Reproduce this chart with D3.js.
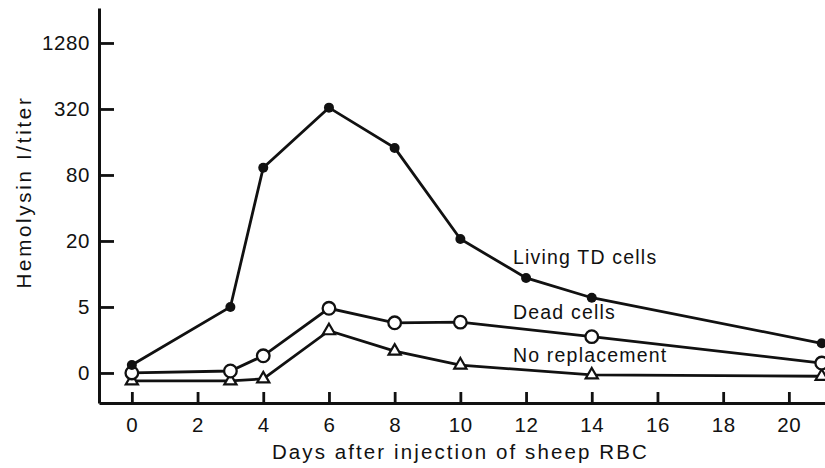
<!DOCTYPE html>
<html>
<head>
<meta charset="utf-8">
<script src="https://cdn.jsdelivr.net/npm/d3@7"></script>
<style>
  body { margin: 0; background: #fff; }
  text { font-family: "Liberation Sans", Arial, sans-serif; fill: #111; }
  .tickText { font-size: 20.5px; letter-spacing: 0.6px; }
  .aText { font-size: 20.5px; letter-spacing: 2.1px; }
  .yText { font-size: 20.5px; letter-spacing: 2.7px; }
  .sText { font-size: 19.5px; letter-spacing: 1.2px; }
</style>
</head>
<body>
<div id="chart"></div>
<script>
// Chart data (y in log4 steps: 0 -> "0", 1 -> "5", 2 -> "20", ...)
// ==============================
var days = [0, 3, 4, 6, 8, 10, 12, 14, 21];
var livingTD = [0.12, 1.0, 3.11, 4.02, 3.41, 2.03, 1.44, 1.14, 0.45];

var deadDays = [0, 3, 4, 6, 8, 10, 14, 21];
var deadCells = [0.0, 0.03, 0.26, 0.98, 0.76, 0.77, 0.55, 0.15];

var noRepDays = [0, 3, 4, 6, 8, 10, 14, 21];
var noReplacement = [-0.12, -0.12, -0.09, 0.64, 0.33, 0.12, -0.03, -0.05];

var yTickLabels = ["0", "5", "20", "80", "320", "1280"];
var xTicks = [0, 2, 4, 6, 8, 10, 12, 14, 16, 18, 20];

// Define SVG area
// ==============================
var svgWidth = 825;
var svgHeight = 468;

var margin = { top: 8, right: 0, bottom: 65, left: 99 };
var width = svgWidth - margin.left - margin.right;
var height = svgHeight - margin.top - margin.bottom;

var svg = d3.select("#chart")
  .append("svg")
  .attr("width", svgWidth)
  .attr("height", svgHeight);

var chartGroup = svg.append("g")
  .attr("transform", `translate(${margin.left}, ${margin.top})`);

// Scales
// ==============================
var xScale = d3.scaleLinear()
  .domain([-1.0, 21.1])
  .range([0, width]);

var yScale = d3.scaleLinear()
  .domain([-0.455, 5.53])
  .range([height, 0]);

// Axes (ticks point inward)
// ==============================
var xAxis = d3.axisBottom(xScale)
  .tickValues(xTicks)
  .tickSizeInner(-11)
  .tickSizeOuter(0)
  .tickPadding(14);

var yAxis = d3.axisLeft(yScale)
  .tickValues(d3.range(yTickLabels.length))
  .tickFormat(i => yTickLabels[i])
  .tickSizeInner(-15)
  .tickSizeOuter(0)
  .tickPadding(9);

var xAxisGroup = chartGroup.append("g")
  .attr("transform", `translate(0, ${height})`)
  .call(xAxis);

var yAxisGroup = chartGroup.append("g")
  .call(yAxis);

[xAxisGroup, yAxisGroup].forEach(function(g) {
  g.attr("font-family", null).attr("font-size", null);
  g.select(".domain").attr("stroke", "#111").attr("stroke-width", 3);
  g.selectAll(".tick line").attr("stroke", "#111").attr("stroke-width", 2.8);
  g.selectAll(".tick text")
    .attr("class", "tickText")
    .attr("fill", "#111");
});

// Lines and markers
// ==============================
var line = d3.line()
  .x(d => xScale(d[0]))
  .y(d => yScale(d[1]));

var series = [
  { name: "living", pts: d3.zip(days, livingTD) },
  { name: "dead", pts: d3.zip(deadDays, deadCells) },
  { name: "none", pts: d3.zip(noRepDays, noReplacement) }
];

chartGroup.selectAll(".seriesLine")
  .data(series)
  .join("path")
  .attr("class", "seriesLine")
  .attr("d", d => line(d.pts))
  .attr("fill", "none")
  .attr("stroke", "#111")
  .attr("stroke-width", 2.8);

// Triangles (no replacement)
chartGroup.selectAll(".triMark")
  .data(series[2].pts)
  .join("path")
  .attr("class", "triMark")
  .attr("transform", d => `translate(${xScale(d[0])}, ${yScale(d[1])})`)
  .attr("d", d3.symbol(d3.symbolTriangle, 64))
  .attr("fill", "#fff")
  .attr("stroke", "#111")
  .attr("stroke-width", 2.2);

// Open circles (dead cells)
chartGroup.selectAll(".openMark")
  .data(series[1].pts)
  .join("circle")
  .attr("class", "openMark")
  .attr("cx", d => xScale(d[0]))
  .attr("cy", d => yScale(d[1]))
  .attr("r", 6.3)
  .attr("fill", "#fff")
  .attr("stroke", "#111")
  .attr("stroke-width", 2.3);

// Filled circles (living TD cells)
chartGroup.selectAll(".fillMark")
  .data(series[0].pts)
  .join("circle")
  .attr("class", "fillMark")
  .attr("cx", d => xScale(d[0]))
  .attr("cy", d => yScale(d[1]))
  .attr("r", 5)
  .attr("fill", "#111");

// Series labels
// ==============================
var seriesLabels = ["Living TD cells", "Dead cells", "No replacement"];
var labelPos = [[11.6, 1.65], [11.6, 0.82], [11.6, 0.17]];

chartGroup.selectAll(".sText")
  .data(seriesLabels)
  .join("text")
  .attr("class", "sText")
  .attr("x", (d, i) => xScale(labelPos[i][0]))
  .attr("y", (d, i) => yScale(labelPos[i][1]))
  .text(d => d);

// Axis labels
// ==============================
chartGroup.append("text")
  .attr("class", "yText")
  .attr("transform", "rotate(-90)")
  .attr("x", -(192 - margin.top))
  .attr("y", -68)
  .attr("text-anchor", "middle")
  .text("Hemolysin I/titer");

chartGroup.append("text")
  .attr("class", "aText")
  .attr("x", xScale(10))
  .attr("y", height + 56)
  .attr("text-anchor", "middle")
  .text("Days after injection of sheep RBC");
</script>
</body>
</html>
